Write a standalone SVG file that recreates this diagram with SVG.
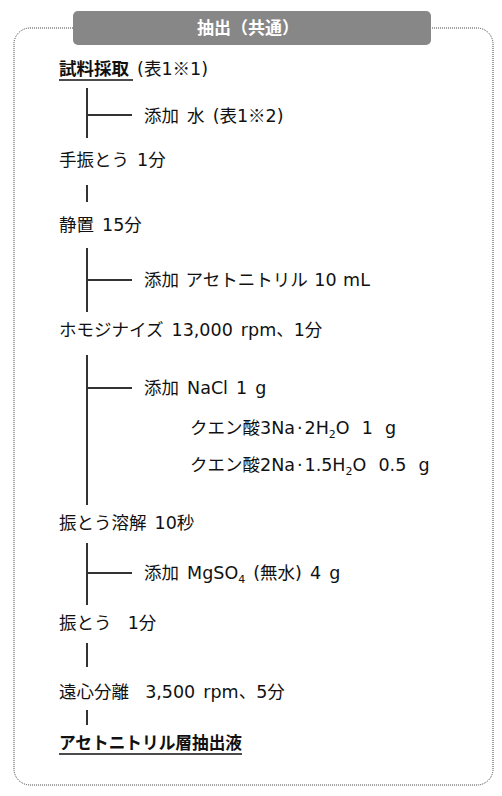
<svg xmlns="http://www.w3.org/2000/svg" width="502" height="796" viewBox="0 0 502 796">
<style>
text{font-family:"DejaVu Sans","Noto Sans CJK JP",sans-serif;font-size:17.5px;fill:#111;white-space:pre;word-spacing:2.5px}
.b{font-weight:bold}
.j{font-family:"Noto Sans CJK JP",sans-serif}
.s{font-size:11px}
.t{word-spacing:0.5px}
.h{fill:#fff;font-weight:bold;font-size:17px;word-spacing:0}
.c line{stroke:#333;stroke-width:2}
.u{stroke:#111;stroke-width:1.5}
</style>
<rect x="14" y="28" width="479" height="757" rx="16" fill="#fff" stroke="#444" stroke-width="1" stroke-dasharray="1 1"/>
<g id="header">
<rect x="73" y="11" width="358" height="34" rx="5" fill="#878787"/>
<text class="h" x="248" y="34" text-anchor="middle">抽出（共通）</text>
</g>
<g class="c" id="connectors">
<line x1="87" y1="88" x2="87" y2="138"/><line x1="87" y1="115" x2="132" y2="115"/>
<line x1="87" y1="185" x2="87" y2="202"/>
<line x1="87" y1="248" x2="87" y2="312"/><line x1="87" y1="280" x2="132" y2="280"/>
<line x1="87" y1="355" x2="87" y2="505"/><line x1="87" y1="388" x2="132" y2="388"/>
<line x1="87" y1="543" x2="87" y2="605"/><line x1="87" y1="573" x2="132" y2="573"/>
<line x1="87" y1="643" x2="87" y2="667"/>
<line x1="87" y1="710" x2="87" y2="725"/>
</g>
<g id="n1"><text x="59" y="75"><tspan class="b">試料採取</tspan> (表1<tspan class="j">※</tspan>1)</text><line class="u" x1="59" y1="80" x2="133" y2="80"/></g>
<g id="n2"><text x="144" y="122">添加 水 (表1<tspan class="j">※</tspan>2)</text></g>
<g id="n3"><text x="59" y="166">手振とう 1分</text></g>
<g id="n4"><text x="59" y="231">静置 15分</text></g>
<g id="n5"><text x="144" y="286" style="word-spacing:1px">添加 アセトニトリル 10 mL</text></g>
<g id="n6"><text x="59" y="336">ホモジナイズ 13,000 rpm、1分</text></g>
<g id="n7"><text x="144" y="394">添加 NaCl 1 g</text>
<text class="t" x="190" y="434">クエン酸3Na<tspan dx="2">·</tspan><tspan dx="2">2H</tspan><tspan class="s" dy="4">2</tspan><tspan dy="-4">O  1  g</tspan></text>
<text class="t" x="190" y="471">クエン酸2Na<tspan dx="2">·</tspan><tspan dx="2">1.5H</tspan><tspan class="s" dy="4">2</tspan><tspan dy="-4">O  0.5  g</tspan></text></g>
<g id="n8"><text x="59" y="529">振とう溶解 10秒</text></g>
<g id="n9"><text x="144" y="579">添加 MgSO<tspan class="s" dy="4">4</tspan><tspan dy="-4"> (無水) 4 g</tspan></text></g>
<g id="n10"><text x="59" y="629">振とう  1分</text></g>
<g id="n11"><text x="59" y="698">遠心分離  3,500 rpm、5分</text></g>
<g id="n12"><text class="b" x="59" y="749" textLength="183" lengthAdjust="spacingAndGlyphs">アセトニトリル層抽出液</text><line class="u" x1="59" y1="754" x2="242" y2="754"/></g>
</svg>
